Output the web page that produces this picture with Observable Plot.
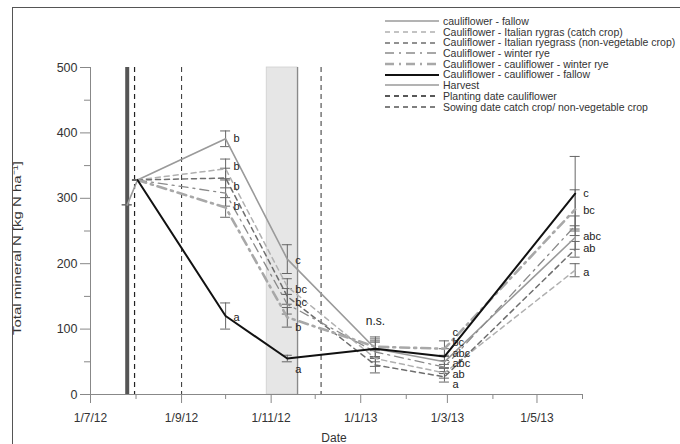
<!DOCTYPE html>
<html><head><meta charset="utf-8">
<script src="https://cdn.jsdelivr.net/npm/d3@7"></script>
<script src="https://cdn.jsdelivr.net/npm/@observablehq/plot@0.6"></script>
<style>
body{margin:0;background:#fff;font-family:"Liberation Sans",Arial,sans-serif;}
#wrap{position:relative;width:680px;height:444px;overflow:hidden;}
#frame{position:absolute;left:12px;top:7px;width:700px;height:460px;border-top:1.5px solid #555;border-left:1.5px solid #555;pointer-events:none;}
#legend{position:absolute;left:385px;top:16px;font-size:10.5px;color:#333;}
.row{height:10.7px;line-height:10.7px;display:flex;align-items:center;white-space:nowrap;}
.row svg{width:54px;height:10px;margin-right:4px;flex:none;}
#ylab{position:absolute;left:16px;top:248px;transform:translate(-50%,-50%) rotate(-90deg) scaleX(1.3);font-size:11.5px;color:#333;white-space:nowrap;}
#xlab{position:absolute;left:334px;top:438px;transform:translate(-50%,-50%);font-size:12px;color:#333;}
</style></head>
<body><div id="wrap"><div id="chart"></div><div id="frame"></div><div id="legend"></div>
<div id="ylab">Total mineral N [kg N ha⁻¹]</div><div id="xlab">Date</div></div>
<script>
// ---- data ----
const sampleDates = ["2012-08-02","2012-10-01","2012-11-12","2013-01-11","2013-02-27","2013-05-27"];
const fallowFirstDate = "2012-07-26";
const fallowFirstValue = 290;
const fallow      = [328, 391, 207, 70, 50, 240];
const catchCrop   = [328, 345, 165, 55, 33, 190];
const nonVeg      = [328, 331, 150, 45, 27, 222];
const winterRye   = [328, 308, 138, 65, 42, 258];
const ccWinterRye = [328, 286, 118, 73, 70, 283];
const ccFallow    = [328, 120, 55, 70, 58, 307];
const fallowErr      = [0, 12, 22, 15, 10, 18];
const catchErr       = [0, 15, 12, 12, 8, 10];
const nonVegErr      = [0, 15, 12, 12, 8, 12];
const winterRyeErr   = [0, 20, 15, 15, 10, 15];
const ccWinterRyeErr = [0, 15, 15, 15, 12, 30];
const ccFallowErr    = [0, 20, 5, 12, 12, 57];
const seriesNames = ["cauliflower - fallow","Cauliflower - Italian rygras (catch crop)","Cauliflower - Italian ryegrass (non-vegetable crop)","Cauliflower - winter rye","Cauliflower - cauliflower - winter rye","Cauliflower - cauliflower - fallow"];
const otherNames = ["Harvest","Planting date cauliflower","Sowing date catch crop/ non-vegetable crop"];
const harvestDates = ["2012-07-26"];
const harvestBandStart = ["2012-10-29"];
const harvestBandEnd = ["2012-11-19"];
const plantingDates = ["2012-07-31"];
const sowingDates = ["2012-09-01","2012-12-05"];
const letterDates = ["2012-10-01","2012-10-01","2012-10-01","2012-10-01","2012-10-01",
  "2012-11-12","2012-11-12","2012-11-12","2012-11-12","2012-11-12",
  "2013-02-27","2013-02-27","2013-02-27","2013-02-27","2013-02-27","2013-02-27",
  "2013-05-27","2013-05-27","2013-05-27","2013-05-27","2013-05-27"];
const letterTexts = ["b","b","b","b","a", "c","bc","bc","b","a", "c","bc","abc","abc","ab","a", "c","bc","abc","ab","a"];
const letterValues = [391,348,318,288,118, 205,160,140,103,38, 95,79,63,47,31,15, 307,281,241,223,186];
const nsDate = ["2013-01-11"];
const nsText = ["n.s."];
const nsValue = [112];
const xDomain = ["2012-07-01","2013-06-01"];
const yDomain = [0, 500];
const yMajor = [0,100,200,300,400,500];
const yMinor = [50,150,250,350,450];
const xMajor = ["2012-07-01","2012-09-01","2012-11-01","2013-01-01","2013-03-01","2013-05-01"];
const xMinor = ["2012-08-01","2012-10-01","2012-12-01","2013-02-01","2013-04-01","2013-06-01"];

// ---- styles ----
const styles = [
  {stroke:"#9a9a9a", width:1.6, dash:null},
  {stroke:"#b0b0b0", width:1.5, dash:"5,4"},
  {stroke:"#6e6e6e", width:1.5, dash:"5,4"},
  {stroke:"#8a8a8a", width:1.3, dash:"9,5,2,5"},
  {stroke:"#a8a8a8", width:2.6, dash:"9,5,2,5"},
  {stroke:"#111111", width:2,   dash:null}
];
const P = d => new Date(d);
const vals = [fallow, catchCrop, nonVeg, winterRye, ccWinterRye, ccFallow];
const errs = [fallowErr, catchErr, nonVegErr, winterRyeErr, ccWinterRyeErr, ccFallowErr];
const series = vals.map((v,i) => {
  const rows = v.map((y,j) => ({date:P(sampleDates[j]), v:y, e:errs[i][j]}));
  if (i === 0) rows.unshift({date:P(fallowFirstDate), v:fallowFirstValue, e:0});
  return rows;
});
const allRows = series.flat();
const caps = allRows.flatMap(d => [{date:d.date, y:d.v - d.e}, {date:d.date, y:d.v + d.e}]);
const letters = letterTexts.map((t,i) => ({date:P(letterDates[i]), v:letterValues[i], t}));
const ns = nsText.map((t,i) => ({date:P(nsDate[i]), v:nsValue[i], t}));

const chart = Plot.plot({
  width:680, height:444,
  marginLeft:90, marginRight:98, marginTop:67, marginBottom:50,
  style:{fontFamily:"Liberation Sans, Arial, sans-serif", fontSize:"12px", color:"#333", background:"transparent"},
  x:{type:"utc", domain:xDomain.map(P)},
  y:{domain:yDomain},
  marks:[
    Plot.rect(harvestBandStart.map((d,i)=>({a:P(d), b:P(harvestBandEnd[i])})), {x1:"a", x2:"b", fill:"#e6e6e6", stroke:"#cfcfcf", strokeWidth:0.8}),
    Plot.ruleX(harvestBandEnd.map(P), {stroke:"#8a8a8a", strokeWidth:1.3}),
    Plot.ruleX(harvestDates.map(P), {stroke:"#555", strokeWidth:4}),
    Plot.ruleX(plantingDates.map(P), {stroke:"#222", strokeWidth:1.2, strokeDasharray:"5,4"}),
    Plot.ruleX(sowingDates.map(P), {stroke:"#444", strokeWidth:1.1, strokeDasharray:"5,4"}),
    Plot.ruleY([yDomain[0]], {stroke:"#888", strokeWidth:1}),
    Plot.ruleX([P(xDomain[0])], {stroke:"#888", strokeWidth:1}),
    Plot.axisY({ticks:yMajor, tickSize:10, tickPadding:3, label:null, stroke:"#888", fontSize:12.5}),
    Plot.axisY({ticks:yMinor, tickSize:6, tickFormat:()=>"", label:null, stroke:"#888"}),
    Plot.axisX({ticks:xMajor.map(P), tickSize:9, tickPadding:10, tickFormat:d3.utcFormat("%-d/%-m/%y"), label:null, stroke:"#888", fontSize:12}),
    Plot.axisX({ticks:xMinor.map(P), tickSize:5, tickFormat:()=>"", label:null, stroke:"#888"}),
    Plot.ruleX(allRows.filter(d=>d.e>0), {x:"date", y1:d=>d.v-d.e, y2:d=>d.v+d.e, stroke:"#666", strokeWidth:1}),
    Plot.ruleY(caps, {x1:"date", x2:"date", y:"y", insetLeft:-5, insetRight:-5, stroke:"#666", strokeWidth:1}),
    ...series.map((rows,i) => Plot.line(rows, {x:"date", y:"v", stroke:styles[i].stroke, strokeWidth:styles[i].width, strokeDasharray:styles[i].dash})),
    Plot.text(letters, {x:"date", y:"v", text:"t", textAnchor:"start", dx:8, fill:"#222", fontSize:11}),
    Plot.text(ns, {x:"date", y:"v", text:"t", textAnchor:"middle", fill:"#222", fontSize:12})
  ]
});
document.getElementById("chart").appendChild(chart);

// legend
const leg = document.getElementById("legend");
const legendStyles = styles.concat([
  {stroke:"#9a9a9a", width:1.3, dash:null},
  {stroke:"#222", width:1.3, dash:"5,4"},
  {stroke:"#555", width:1.3, dash:"5,4"}
]);
seriesNames.concat(otherNames).forEach((name,i) => {
  const s = legendStyles[i];
  const row = document.createElement("div");
  row.className = "row";
  row.innerHTML = `<svg viewBox="0 0 54 10"><line x1="0" y1="5" x2="54" y2="5" stroke="${s.stroke}" stroke-width="${s.width}" ${s.dash?`stroke-dasharray="${s.dash}"`:""}/></svg><span>${name}</span>`;
  leg.appendChild(row);
});
</script></body></html>
